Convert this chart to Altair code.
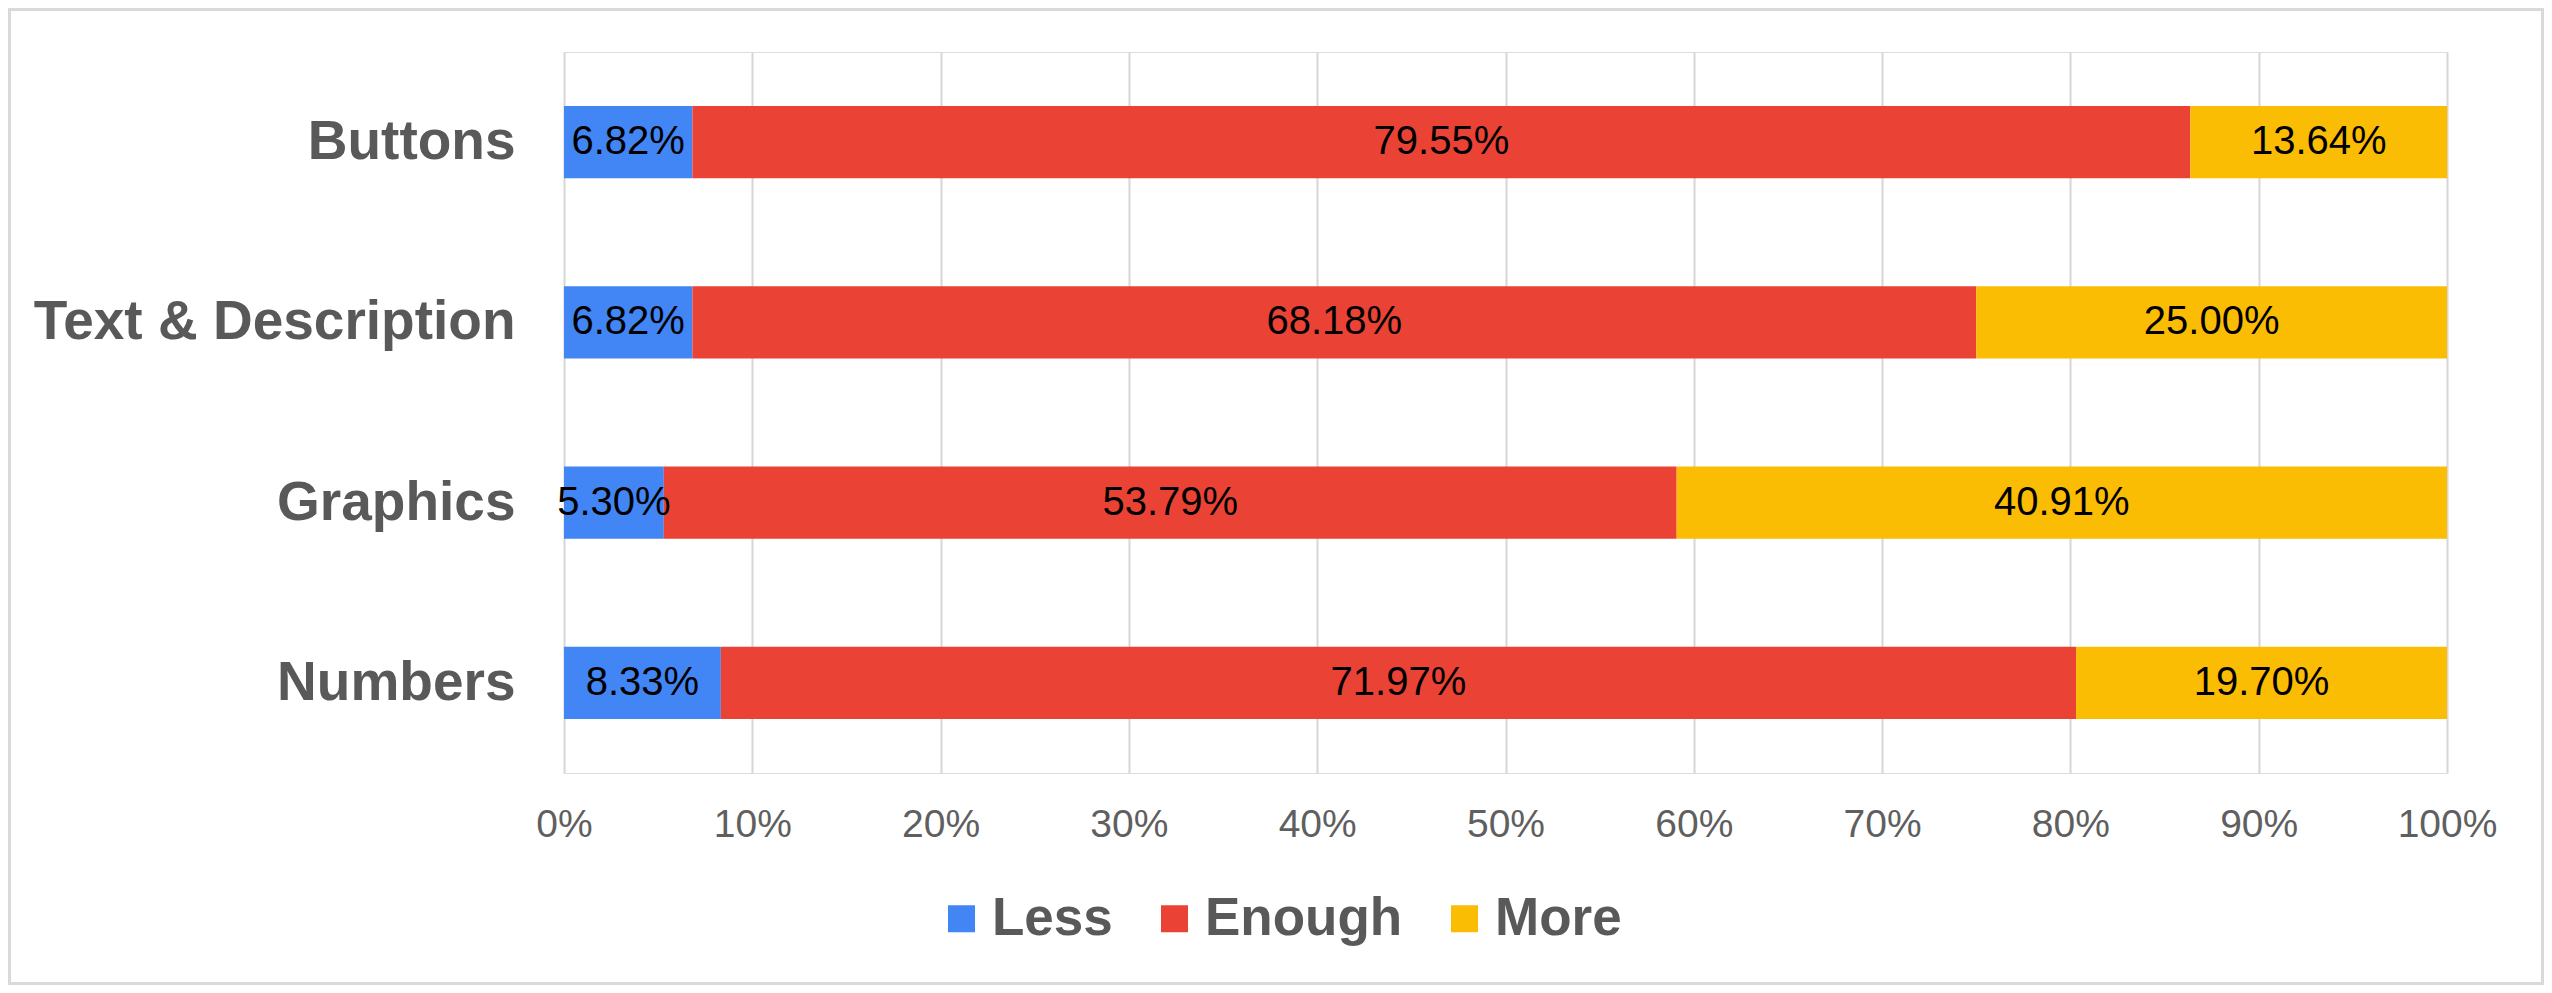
import altair as alt
import pandas as pd

categories = ["Buttons", "Text & Description", "Graphics", "Numbers"]
series = ["Less", "Enough", "More"]
less_vals = [6.82, 6.82, 5.30, 8.33]
enough_vals = [79.55, 68.18, 53.79, 71.97]
more_vals = [13.64, 25.00, 40.91, 19.70]
colors = ["#4285F4", "#EA4335", "#FBBC04"]
tick_values = [0, 10, 20, 30, 40, 50, 60, 70, 80, 90, 100]

rows = []
for i, c in enumerate(categories):
    for j, (s, vals) in enumerate(zip(series, [less_vals, enough_vals, more_vals])):
        v = vals[i]
        rows.append({"category": c, "series": s, "order": j, "value": v,
                     "label": f"{v:.2f}%"})
df = pd.DataFrame(rows)

FONT = "Liberation Sans"
W, H = 1883, 721
L, T, R, B = 556, 44, 97, 212

base = alt.Chart(df).transform_stack(
    stack="value", groupby=["category"], as_=["v0", "v1"],
    sort=[alt.SortField("order", order="ascending")]
).transform_calculate(mid="(datum.v0 + datum.v1) / 2")

yenc = alt.Y("category:N", sort=categories, title=None,
             scale=alt.Scale(paddingInner=0.6, paddingOuter=0.3),
             axis=alt.Axis(labelFont=FONT, labelFontSize=55, labelFontWeight="bold",
                           labelColor="#595959", labelPadding=49, ticks=False,
                           tickSize=0, domain=False, grid=False, labelLimit=1000))

xscale = alt.Scale(domain=[0, 100], nice=False, zero=True)

bars = base.mark_bar().encode(
    x=alt.X("v0:Q", scale=xscale, title=None,
            axis=alt.Axis(values=tick_values, labelExpr="datum.value + '%'",
                          labelFont=FONT, labelFontSize=39, labelColor="#5f5f5f",
                          labelPadding=32, ticks=False, tickSize=0, domain=False,
                          labelFlush=False, labelOverlap=False, labelBound=False,
                          grid=True, gridColor="#d6d6d6", gridWidth=2)),
    x2="v1:Q",
    y=yenc,
    color=alt.Color("series:N", scale=alt.Scale(domain=series, range=colors),
                    legend=alt.Legend(title=None, orient="none", direction="horizontal",
                                      legendX=371, legendY=840,
                                      labelFont=FONT, labelFontSize=53,
                                      labelFontWeight="bold", labelColor="#595959",
                                      labelLimit=1000,
                                      symbolType="square", symbolSize=729,
                                      symbolStrokeWidth=0, labelOffset=4,
                                      columnPadding=35, padding=0)),
    order=alt.Order("order:Q"),
)

texts = base.mark_text(font=FONT, fontSize=40, color="#000000",
                       baseline="middle", align="center").encode(
    x=alt.X("mid:Q", scale=xscale),
    y=alt.Y("category:N", sort=categories),
    text="label:N",
)

frame = alt.Chart(pd.DataFrame({"a": [0]})).mark_rect(
    filled=False, stroke="#d9d9d9", strokeWidth=3
).encode(
    x=alt.value(-L + 1.5), x2=alt.value(W + R - 1.5),
    y=alt.value(-T + 1.5), y2=alt.value(H + B - 1.5),
)

chart = alt.layer(bars, texts, frame).properties(
    width=W, height=H,
    autosize=alt.AutoSizeParams(type="none"),
    padding={"left": L, "top": T, "right": R, "bottom": B},
).configure_view(stroke=None).configure(background="white")

chart.save("out.html", embed_options={"renderer": "svg", "actions": False})
